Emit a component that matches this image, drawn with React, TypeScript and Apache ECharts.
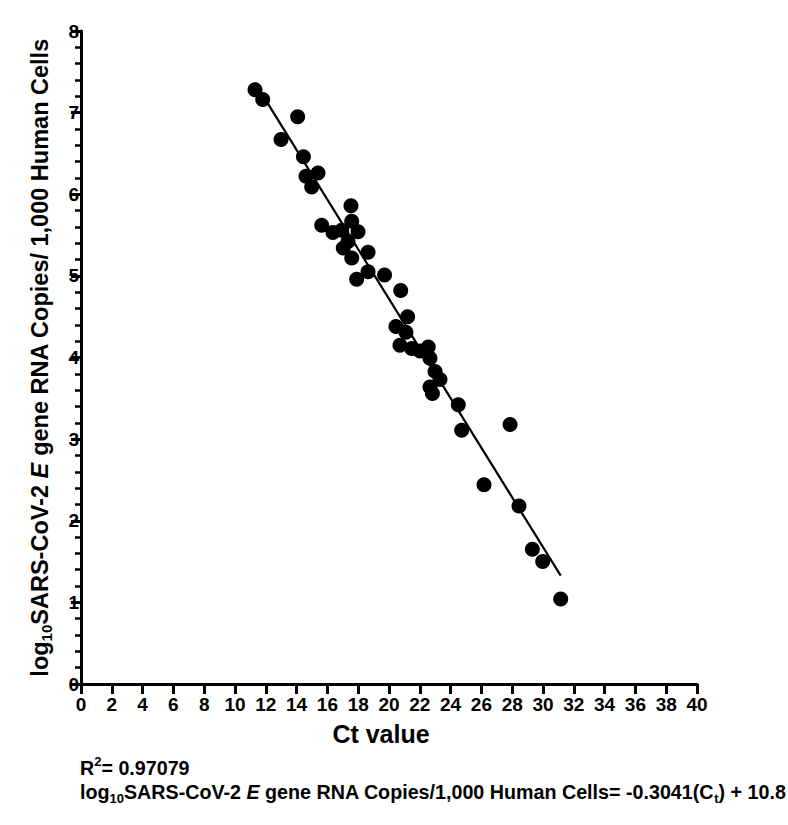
import React, { useEffect, useRef } from "react";
import * as echarts from "echarts";

const ctValues = [
  11.3, 11.8, 12.99, 14.07, 14.44, 14.61, 14.98, 15.39, 15.63, 16.36, 16.93,
  17.53, 17.58, 17.99, 17.34, 17.03, 17.58, 18.64, 18.64, 17.9, 19.71, 20.76,
  21.21, 20.45, 21.1, 20.71, 21.47, 22.55, 22.01, 22.66, 22.99, 23.31, 22.66,
  22.82, 24.5, 24.72, 26.17, 27.86, 28.44, 29.31, 29.98, 31.15,
];
const logCopies = [
  7.28, 7.16, 6.67, 6.95, 6.46, 6.22, 6.09, 6.26, 5.62, 5.53, 5.56, 5.86, 5.67,
  5.54, 5.42, 5.34, 5.22, 5.29, 5.05, 4.96, 5.01, 4.82, 4.5, 4.38, 4.31, 4.15,
  4.11, 4.13, 4.08, 3.99, 3.83, 3.73, 3.64, 3.56, 3.42, 3.11, 2.44, 3.18, 2.18,
  1.65, 1.5, 1.04,
];
const xTicks = [0, 40, 2];
const yTicks = [0, 8, 1];
const SLOPE = -0.3041;
const INTERCEPT = 10.8;
const R2 = "0.97079";

const FONT = "'Liberation Sans', Arial, Helvetica, sans-serif";
const NARROW = "'Liberation Sans Narrow', 'Liberation Sans', Arial, sans-serif";

export default function App() {
  const ref = useRef<HTMLDivElement>(null);
  useEffect(() => {
    if (!ref.current) return;
    const chart = echarts.init(ref.current, null, { renderer: "svg" });
    const points = ctValues.map((x, i) => [x, logCopies[i]]);
    const xMin = Math.min(...ctValues);
    const xMax = Math.max(...ctValues);
    const fit = [
      [xMin, SLOPE * xMin + INTERCEPT],
      [xMax, SLOPE * xMax + INTERCEPT],
    ];
    const bottomRich = {
      m: {
        fontFamily: NARROW,
        fontWeight: "bold",
        fontSize: 19.7,
        fill: "#000",
        lineHeight: 26,
        verticalAlign: "middle",
      },
      i: {
        fontFamily: NARROW,
        fontWeight: "bold",
        fontStyle: "italic",
        fontSize: 19.7,
        fill: "#000",
        lineHeight: 26,
        verticalAlign: "middle",
      },
      s: {
        fontFamily: NARROW,
        fontWeight: "bold",
        fontSize: 13,
        fill: "#000",
        lineHeight: 13,
        verticalAlign: "bottom",
      },
      p: {
        fontFamily: NARROW,
        fontWeight: "bold",
        fontSize: 13,
        fill: "#000",
        lineHeight: 13,
        verticalAlign: "top",
      },
    };
    chart.setOption({
      animation: false,
      backgroundColor: "#ffffff",
      grid: { left: 81, right: 91, top: 31, bottom: 141, containLabel: false },
      xAxis: {
        type: "value",
        min: xTicks[0],
        max: xTicks[1],
        interval: xTicks[2],
        name: "Ct value",
        nameLocation: "middle",
        nameGap: 37,
        nameTextStyle: {
          fontFamily: FONT,
          fontWeight: "bold",
          fontSize: 25,
          color: "#000",
          padding: [0, 16, 0, 0],
        },
        axisLine: { lineStyle: { color: "#000", width: 3 } },
        axisTick: { length: 10, lineStyle: { color: "#000", width: 3 } },
        axisLabel: {
          fontFamily: NARROW,
          fontWeight: "bold",
          fontSize: 19,
          color: "#000",
          margin: 11,
        },
        splitLine: { show: false },
      },
      yAxis: {
        type: "value",
        min: yTicks[0],
        max: yTicks[1],
        interval: yTicks[2],
        name:
          "{m|log}{s|10}{m|SARS-CoV-2 }{i|E}{m| gene RNA Copies/ 1,000 Human Cells}",
        nameLocation: "middle",
        nameRotate: 90,
        nameGap: 27,
        nameTextStyle: {
          rich: {
            m: {
              fontFamily: FONT,
              fontWeight: "bold",
              fontSize: 23.5,
              color: "#000",
              lineHeight: 29,
              verticalAlign: "middle",
            },
            i: {
              fontFamily: FONT,
              fontWeight: "bold",
              fontStyle: "italic",
              fontSize: 23.5,
              color: "#000",
              lineHeight: 29,
              verticalAlign: "middle",
            },
            s: {
              fontFamily: FONT,
              fontWeight: "bold",
              fontSize: 15,
              color: "#000",
              lineHeight: 13,
              verticalAlign: "bottom",
            },
          },
        },
        axisLine: { lineStyle: { color: "#000", width: 3 } },
        axisTick: { length: 10, lineStyle: { color: "#000", width: 3 } },
        minorTick: {
          show: true,
          splitNumber: 5,
          length: 6,
          lineStyle: { color: "#000", width: 2.5 },
        },
        axisLabel: {
          fontFamily: NARROW,
          fontWeight: "bold",
          fontSize: 19,
          color: "#000",
          margin: 2,
        },
        splitLine: { show: false },
        minorSplitLine: { show: false },
      },
      series: [
        {
          type: "line",
          data: fit,
          symbol: "none",
          lineStyle: { color: "#000", width: 2.2 },
          z: 2,
        },
        {
          type: "scatter",
          data: points,
          symbolSize: 15,
          itemStyle: { color: "#000", opacity: 1 },
          z: 3,
        },
      ],
      graphic: [
        {
          type: "text",
          left: 80,
          top: 755,
          style: {
            text: "{m|R}{p|2}{m|= " + R2 + "}",
            rich: bottomRich,
          },
        },
        {
          type: "text",
          left: 80,
          top: 782,
          style: {
            text:
              "{m|log}{s|10}{m|SARS-CoV-2 }{i|E}{m| gene RNA Copies/1,000 Human Cells= " +
              SLOPE +
              "(C}{s|t}{m|) + " +
              INTERCEPT +
              "}",
            rich: bottomRich,
          },
        },
      ],
    });
    return () => chart.dispose();
  }, []);
  return (
    <div
      ref={ref}
      style={{ position: "fixed", left: 0, top: 0, width: 788, height: 825 }}
    />
  );
}
